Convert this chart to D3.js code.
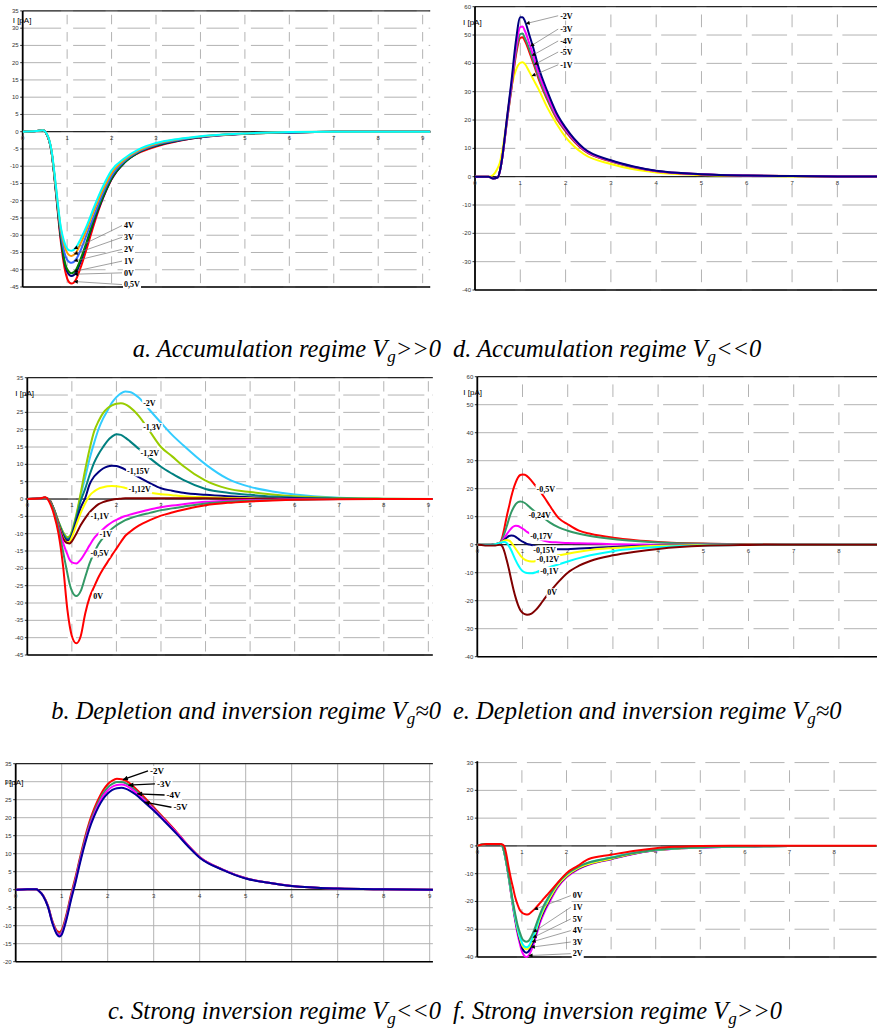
<!DOCTYPE html>
<html><head><meta charset="utf-8">
<script src="https://cdn.jsdelivr.net/npm/d3@7"></script>
<style>body{margin:0;background:#fff}svg{display:block}</style>
</head><body>
<svg id="c" width="877" height="1029"></svg>
<script>
// ---------- DATA ----------
// Panel a: accumulation Vg>>0
const aT   = [0,0.3,0.45,0.55,0.65,0.75,0.85,0.95,1.05,1.1,1.2,1.3,1.45,1.6,1.8,2.0,2.3,2.6,3.0,3.5,4.0,5.0,6.0,7.0,8.0,9.2];
const a05V = [0,0.2,0.4,-1,-6,-18,-31,-40,-43.7,-44,-42.8,-39.5,-33.5,-27,-19.5,-13.8,-8.7,-6.2,-4.3,-2.7,-1.6,-0.6,-0.2,0,0,0];
const a0V  = [0,0.2,0.4,-1,-6,-17.5,-30,-38.5,-41.5,-41.8,-40.8,-37.8,-32,-26,-19.3,-13.7,-8.9,-6.1,-4.1,-2.6,-1.6,-0.6,-0.2,0,0,0];
const a1V  = [0,0.2,0.4,-1,-6,-17.5,-29.5,-38,-40.7,-41,-40,-37,-31.5,-25.5,-19,-13.5,-8.8,-6,-4,-2.5,-1.5,-0.6,-0.2,0,0,0];
const a2V  = [0,0.2,0.4,-1,-5.8,-17,-28.5,-35.5,-37.8,-38,-37,-34.5,-29.5,-24.5,-18,-12.8,-8.4,-5.8,-3.8,-2.4,-1.5,-0.5,-0.2,0,0,0];
const a3V  = [0,0.2,0.4,-0.9,-5.6,-16.5,-27.5,-33.5,-35.8,-36,-35,-32.5,-28,-23,-17,-12,-8,-5.5,-3.5,-2.2,-1.4,-0.5,-0.1,0,0,0];
const a4V  = [0,0.2,0.4,-0.8,-5.5,-16,-27,-32.5,-34.4,-34.5,-33.5,-31.2,-27,-22,-16,-11.2,-7.6,-5.2,-3.3,-2.1,-1.3,-0.5,-0.1,0,0,0];

// Panel d: accumulation Vg<<0
const dT   = [0,0.3,0.4,0.5,0.55,0.6,0.65,0.7,0.8,0.9,1.0,1.05,1.1,1.2,1.3,1.4,1.6,1.8,2.0,2.4,3.0,3.5,4.0,5.0,6.0,7.0,8.0,9.0];
const dm2V = [0,0,-0.6,-0.3,2,6.5,13,20,33,47.5,56.3,56.3,55,50,44.7,38.8,30,22.5,17.3,10,5.8,3.6,2.1,0.9,0.4,0.2,0.1,0.1];
const dm3V = [0,0,-0.6,-0.3,2,6.5,12.5,19.5,32,45,52.8,53,51.5,47,42,36.8,28.5,21.5,16.7,9.7,5.6,3.5,2,0.9,0.4,0.2,0.1,0.1];
const dm4V = [0,0,-0.6,-0.3,2,6.5,12.5,19,31,43.5,50.3,50.5,49,45,40.3,35.5,27.5,21,16.3,9.5,5.5,3.4,2,0.9,0.4,0.2,0.1,0.1];
const dm5V = [0,0,-0.6,-0.3,2,6.5,12.3,18.8,30.5,42.5,49,49.2,48,44,39.5,34.7,27,20.5,16,9.3,5.4,3.3,1.9,0.8,0.4,0.2,0.1,0.1];
const dm1V = [0,0,0.6,3,5,9,14,20,31,37.5,40.2,40.4,39.8,37,34,31,24.3,18.7,14,8,4.5,2.6,1.5,0.6,0.3,0.1,0,0];

// Panel b: depletion / inversion Vg~0
const bT     = [0,0.3,0.4,0.5,0.6,0.7,0.8,0.9,0.95,1.0,1.1,1.2,1.3,1.4,1.5,1.6,1.7,1.8,1.9,2.0,2.1,2.2,2.3,2.5,2.75,3.0,3.25,3.5,4.0,4.5,5.0,5.5,6.0,7.0,8.0,9.1];
const bm2V   = [0,0.2,0.4,-0.3,-3,-6.5,-9.5,-11,-10.8,-9.5,-5,1,6.3,11.7,16.2,20.2,23.2,25.5,27.8,29.4,30.5,31,30.9,29.3,25.6,22,18.5,15.5,10,5.8,3.5,2.2,1.3,0.4,0.1,0];
const bm13V  = [0,0.2,0.4,-0.3,-3,-6.5,-9.5,-11,-10.8,-9.3,-4.5,1.8,8.5,14.5,19.5,22.5,24.8,26.2,27,27.5,27.6,27.3,26.5,24,19.5,15,12.3,9.5,5.3,3,2,1.3,0.8,0.3,0.1,0];
const bm12V  = [0,0.2,0.4,-0.3,-3,-6.8,-10,-11.5,-11.3,-10,-5.5,-0.5,3,7,10.5,13,15,16.8,18,18.7,18.5,17.7,16.7,14.5,11.8,9.3,7.3,5.5,2.9,1.8,1.2,0.7,0.4,0.15,0,0];
const bm115V = [0,0.2,0.4,-0.3,-3.2,-7,-10.5,-12,-11.8,-10.5,-6.5,-2.5,0.3,4.3,6.5,7.8,8.8,9.4,9.6,9.5,9.1,8.5,7.8,6.3,4.6,3.1,2.4,1.8,1.2,0.8,0.5,0.3,0.2,0,0,0];
const bm112V = [0,0.2,0.4,-0.3,-3.2,-7.2,-11,-12.5,-12.3,-11,-7.5,-4,-1.2,1,2.2,3,3.4,3.7,3.75,3.7,3.5,3.2,2.9,2.3,1.8,1.4,1.1,0.8,0.5,0.3,0.2,0.1,0,0,0,0];
const bm11V  = [0,0.2,0.4,-0.3,-3.3,-7.5,-11.3,-12.7,-12.8,-12.2,-10,-7.5,-5.5,-3.8,-2.5,-1.5,-0.9,-0.5,-0.2,0,0.1,0.2,0.2,0.2,0.2,0.2,0.2,0.2,0.2,0.1,0,0,0,0,0,0];
const bm1V   = [0,0.2,0.4,-0.5,-3.5,-8,-12.5,-16,-17.5,-18.3,-18.6,-17.5,-15.5,-13.3,-11.3,-9.9,-8.7,-7.6,-6.7,-6,-5.4,-4.9,-4.5,-3.8,-3,-2.4,-1.9,-1.5,-0.8,-0.5,-0.3,-0.2,-0.1,0,0,0];
const bm05V  = [0,0.2,0.4,-0.5,-3.5,-8.5,-15,-21.5,-24.5,-26.5,-28,-26.5,-22.5,-18.5,-15.5,-13,-11.2,-9.8,-8.6,-7.6,-6.8,-6.1,-5.6,-4.8,-4,-3.2,-2.7,-2.2,-1.3,-0.8,-0.5,-0.3,-0.2,0,0,0];
const b0V    = [0,0.2,0.5,-1,-4.5,-10,-19,-32,-36.5,-39.5,-41.6,-39.5,-33,-28.3,-25.3,-22.5,-20.2,-18.2,-16.2,-14.3,-12.4,-10.6,-9.5,-7.7,-6.1,-4.8,-3.9,-3.1,-1.8,-1.1,-0.7,-0.4,-0.2,-0.1,0,0];

// Panel e: depletion / inversion Vg~0
const eT     = [0,0.3,0.4,0.5,0.55,0.6,0.65,0.7,0.75,0.8,0.85,0.9,0.95,1.0,1.05,1.1,1.2,1.3,1.4,1.5,1.6,1.8,2.0,2.25,2.5,3.0,3.5,4.0,5.0,6.0,7.0,8.0,8.9];
const em05V  = [0,0,0.2,0.7,2.5,6,10,13.5,17,20,22.3,24,24.9,25.1,25,24.5,22.8,20.8,18.8,16.5,14,9.5,7.3,5,3.9,2.5,1.6,1,0.4,0.2,0.1,0,0];
const em024V = [0,0,0.2,0.6,1.8,4,6.5,9.2,11.5,13.2,14.5,15.2,15.4,15.3,14.9,14.3,12.8,11.5,10.5,9.2,8,6.2,5,3.9,3.1,2,1.3,0.8,0.3,0.1,0,0,0];
const em017V = [0,0,0.2,0.5,1.3,2.5,3.7,4.8,5.8,6.5,6.8,6.7,6.3,5.8,5.2,4.6,3.6,2.6,1.8,1.3,1,0.8,0.6,0.5,0.4,0.2,0.1,0,0,0,0,0,0];
const em015V = [0,0,0.2,0.5,1.1,1.8,2.5,3.1,3.3,3.2,2.8,2.2,1.6,1.1,0.7,0.3,-0.1,-0.6,-1,-1.3,-1.5,-1.6,-1.6,-1.4,-1.2,-0.8,-0.5,-0.3,-0.1,0,0,0,0];
const em012V = [0,0,0.2,0.6,1.1,1.5,1.7,1.5,0.8,-0.3,-1.5,-2.7,-3.8,-4.7,-5.3,-5.7,-6,-5.8,-5.3,-4.8,-4.4,-3.8,-3.2,-2.5,-1.9,-1.2,-0.7,-0.4,-0.1,0,0,0,0];
const em01V  = [0,0,0.2,0.6,0.9,1,0.6,-0.5,-2,-3.8,-5.6,-7.2,-8.5,-9.4,-9.9,-10.1,-10.2,-9.8,-9.2,-8.6,-8,-7,-6,-4.8,-3.8,-2.3,-1.4,-0.8,-0.3,-0.1,0,0,0];
const e0V    = [0,-0.3,-0.3,0,-0.5,-2.5,-5.5,-8.8,-12.5,-16,-19,-21.5,-23.3,-24.3,-24.8,-25,-24.6,-23.2,-21.2,-19,-17,-13.2,-10,-7.5,-5.8,-3.8,-2.5,-1.5,-0.4,-0.1,0,0,0];

// Panel c: strong inversion Vg<<0
const cT   = [0,0.25,0.45,0.5,0.6,0.7,0.8,0.9,0.95,1.0,1.1,1.2,1.3,1.4,1.5,1.6,1.7,1.8,1.9,2.0,2.1,2.2,2.3,2.4,2.6,2.8,3.0,3.25,3.5,3.75,4.0,4.5,5.0,5.5,6.0,7.0,8.0,9.1];
const cm2V = [0,0.15,0.15,-0.3,-1.7,-4.4,-8.8,-11.5,-11.8,-11.2,-7,-1.5,3.5,9,14.2,18.7,22.3,25.2,27.6,29.3,30.3,30.8,30.7,30.2,28.2,25.6,22.9,19.5,16,12.3,9.1,5.6,3.2,1.9,1.0,0.3,0.1,0];
const cm3V = [0,0.15,0.15,-0.3,-1.75,-4.5,-9,-11.9,-12.3,-11.7,-7.5,-2,3,8.5,13.6,18,21.5,24.4,26.7,28.4,29.4,29.9,29.9,29.5,27.6,25.1,22.5,19.2,15.8,12.2,9,5.6,3.2,1.9,1.0,0.3,0.1,0];
const cm4V = [0,0.15,0.15,-0.3,-1.8,-4.6,-9.2,-12.2,-12.6,-12.1,-8,-2.5,2.5,8,13,17.4,20.8,23.7,26,27.6,28.6,29.1,29.2,28.9,27.1,24.8,22.3,19.1,15.8,12.2,9,5.6,3.2,1.9,1.0,0.3,0.1,0];
const cm5V = [0,0.15,0.15,-0.3,-1.8,-4.7,-9.4,-12.5,-13,-12.5,-8.5,-3,2,7.5,12.5,16.8,20.2,23,25.2,26.7,27.7,28.2,28.3,28,26.5,24.3,22,18.8,15.5,12,8.9,5.5,3.1,1.9,1.0,0.3,0.1,0];

// Panel f: strong inversion Vg>>0
const fT  = [0,0.2,0.5,0.55,0.6,0.65,0.7,0.75,0.8,0.85,0.9,0.95,1.0,1.05,1.1,1.15,1.2,1.3,1.4,1.5,1.6,1.8,2.0,2.25,2.5,3.0,3.5,4.0,4.5,5.0,6.0,7.0,8.0,9.0];
const f2V = [0,0.7,0.7,0.3,-2,-6,-11,-16.5,-22,-27,-31.5,-35,-38,-39.5,-40,-39.5,-38,-33.5,-28,-24,-20.8,-15,-11.3,-8.5,-6.8,-4.8,-2.9,-1.6,-0.9,-0.6,-0.2,0,0,0];
const f3V = [0,0.7,0.7,0.3,-2,-6,-10.8,-16.2,-21.5,-26.3,-30.5,-33.8,-36.5,-38,-38.5,-38,-36.5,-32.3,-27,-23.2,-20,-14.5,-11,-8.3,-6.6,-4.7,-2.8,-1.6,-0.9,-0.6,-0.2,0,0,0];
const f4V = [0,0.7,0.7,0.3,-2,-6,-10.7,-16,-21.2,-25.8,-29.8,-33,-35.5,-36.8,-37.2,-36.8,-35.4,-31.3,-26.3,-22.5,-19.5,-14.2,-10.8,-8.1,-6.5,-4.6,-2.7,-1.5,-0.9,-0.5,-0.2,0,0,0];
const f5V = [0,0.7,0.7,0.3,-2,-6,-10.6,-15.8,-21,-25.5,-29.3,-32.4,-34.8,-36.1,-36.5,-36.1,-34.7,-30.6,-25.5,-21.7,-18.7,-13.6,-10.3,-7.6,-6,-4.2,-2.5,-1.4,-0.8,-0.5,-0.2,0,0,0];
const f1V = [0,0.7,0.7,0.3,-2,-5.8,-10.3,-15.3,-20.3,-24.5,-28.3,-31,-33.2,-34.2,-34.5,-34.2,-33,-29.2,-24.8,-21.2,-18.4,-13.5,-10.2,-7.6,-6,-4.3,-2.6,-1.4,-0.8,-0.5,-0.2,0,0,0];
const f0V = [0,0.7,0.7,0.6,0,-3,-7.5,-11.5,-15,-18.5,-21,-23,-24,-24.5,-24.7,-24.6,-24,-22.5,-20.7,-18.8,-17,-13.3,-9.8,-7.2,-4.7,-3.2,-1.8,-0.8,-0.3,0,0.1,0.1,0.1,0.1];

// tick values
const yTicks5a  = d3.range(-45, 36, 5);
const yTicks5b  = [-45,-40,-35,-30,-25,-20,-15,-10,-5,0,5,10,15,20,25,35]; // "30" hidden behind the axis title
const yTicks10d = d3.range(-40, 61, 10);
const yTicks5c  = d3.range(-20, 36, 5);
const yTicks10f = d3.range(-40, 31, 10);
const xTicks9   = [0,1,2,3,4,5,6,7,8,9];
const xTicks8   = [0,1,2,3,4,5,6,7,8];

// ---------- DRAWING ----------
const svg = d3.select('#c');
const defs = svg.append('defs');
defs.append('marker').attr('id','arS').attr('viewBox','0 0 10 10').attr('refX',10).attr('refY',5)
  .attr('markerUnits','userSpaceOnUse').attr('markerWidth',5).attr('markerHeight',4).attr('orient','auto')
  .append('path').attr('d','M0,0L10,5L0,10z').attr('fill','#000');
defs.append('marker').attr('id','arB').attr('viewBox','0 0 10 10').attr('refX',10).attr('refY',5)
  .attr('markerUnits','userSpaceOnUse').attr('markerWidth',7).attr('markerHeight',5).attr('orient','auto')
  .append('path').attr('d','M0,0L10,5L0,10z').attr('fill','#000');

function vAt(ts, vs, t){
  const i = Math.max(0, Math.min(ts.length-2, d3.bisectRight(ts, t)-1));
  const f = (t-ts[i])/(ts[i+1]-ts[i]);
  return vs[i] + f*(vs[i+1]-vs[i]);
}

const LBL_FONT = "'Liberation Serif','Times New Roman',serif";
const SANS = "'Liberation Sans',Arial,sans-serif";

function drawPanel(p, idx){
  const x = d3.scaleLinear().domain([0, p.xmax]).range([p.left, p.right]);
  const y = d3.scaleLinear().domain([p.ymax, p.ymin]).range([p.top, p.bottom]);
  const W = Math.min(p.right, 877);
  const g = svg.append('g');
  const clipId = 'clip' + idx;
  defs.append('clipPath').attr('id', clipId).append('rect')
    .attr('x', x(0)).attr('y', y(p.ymax)-2).attr('width', W - x(0)).attr('height', y(p.ymin)-y(p.ymax)+3);

  const gridTicks = p.gridTicks || p.yTicks;
  // grid
  const grid = g.append('g').attr('stroke', p.gridColor || '#b3b3b3').attr('stroke-width', 1).attr('fill','none');
  const xv = p.xTicks.filter(t => t > 0);
  if (p.grid === 'solid') {
    gridTicks.forEach(v => grid.append('line').attr('x1', x(0)).attr('x2', W).attr('y1', y(v)).attr('y2', y(v)));
    xv.forEach(t => grid.append('line').attr('x1', x(t)).attr('x2', x(t)).attr('y1', y(p.ymax)).attr('y2', y(p.ymin)));
  } else {
    const gap = p.hGap;
    gridTicks.forEach(v => {
      const edges = [x(0)].concat(xv.map(t => x(t))).concat([W]);
      for (let i = 0; i < edges.length-1; i++) {
        const a = i === 0 ? edges[i] : edges[i] + gap/2;
        const b = i === edges.length-2 ? edges[i+1] : edges[i+1] - gap/2;
        if (b > a) grid.append('line').attr('x1', a).attr('x2', b).attr('y1', y(v)).attr('y2', y(v));
      }
    });
    const ys = gridTicks.slice().sort((a,b)=>a-b);
    xv.forEach(t => {
      for (let j = 0; j < ys.length-1; j++) {
        const y0 = y(ys[j]), y1 = y(ys[j+1]);
        const mid = (y0 + y1)/2, h = Math.abs(y0 - y1) * p.vFrac;
        grid.append('line').attr('x1', x(t)).attr('x2', x(t)).attr('y1', mid - h/2).attr('y2', mid + h/2);
      }
    });
  }

  // frame lines
  const frame = g.append('g').attr('stroke', '#000');
  if (p.topLine) frame.append('line').attr('x1', x(0)).attr('x2', W).attr('y1', y(p.ymax)).attr('y2', y(p.ymax)).attr('stroke-width', 1);
  frame.append('line').attr('x1', x(0)).attr('x2', W).attr('y1', y(p.ymin)).attr('y2', y(p.ymin)).attr('stroke-width', 1.6);
  frame.append('line').attr('x1', x(0)).attr('x2', W).attr('y1', y(0)).attr('y2', y(0)).attr('stroke-width', 1);
  frame.append('line').attr('x1', x(0)).attr('x2', x(0)).attr('y1', y(p.ymax)).attr('y2', y(p.ymin)).attr('stroke-width', 1.8);
  gridTicks.forEach(v => frame.append('line').attr('x1', x(0)-2.5).attr('x2', x(0)).attr('y1', y(v)).attr('y2', y(v)).attr('stroke-width', 0.8));

  // tick labels
  const tl = g.append('g').attr('font-family', SANS).attr('font-size', 6).attr('fill', '#333');
  p.yTicks.forEach(v => tl.append('text').attr('x', x(0)-4).attr('y', y(v)+2).attr('text-anchor','end').text(v));
  p.xTicks.forEach(t => tl.append('text').attr('x', x(t)).attr('y', y(0)+8).attr('text-anchor','middle').text(t));

  // y title
  if (p.ytitle) g.append('text').attr('x', x(0)+p.ytitle[0]).attr('y', y(p.ymax)+p.ytitle[1])
      .attr('font-family', SANS).attr('font-size', 8).attr('fill','#000').text('I [pA]');

  // curves
  const line = d3.line().x((d,i)=>x(p.t[i])).y(d=>y(d)).curve(d3.curveMonotoneX);
  const cg = g.append('g').attr('clip-path', `url(#${clipId})`);
  p.series.forEach(s => cg.append('path').attr('d', line(s.v)).attr('fill','none')
    .attr('stroke', s.color).attr('stroke-width', 2).attr('stroke-linejoin','round'));

  // labels
  const lg = g.append('g');
  p.labels.forEach(L => {
    const lx = x(L.t), ly = y(L.v);
    if (L.target) {
      const s = p.series.find(s => s.name === L.name);
      const tx = x(L.target), ty = y(vAt(p.t, s.v, L.target));
      lg.append('line').attr('x1', lx - 2).attr('y1', ly).attr('x2', tx).attr('y2', ty)
        .attr('stroke', p.arrowStyle === 'big' ? '#000' : '#777')
        .attr('stroke-width', p.arrowStyle === 'big' ? 1.3 : 0.7)
        .attr('marker-end', p.arrowStyle === 'big' ? 'url(#arB)' : 'url(#arS)');
    }
  });
  p.labels.forEach(L => {
    const lx = x(L.t), ly = y(L.v);
    const txt = lg.append('text').attr('x', lx).attr('y', ly + p.labelSize*0.35)
      .attr('font-family', LBL_FONT).attr('font-weight','bold').attr('font-size', p.labelSize)
      .attr('fill','#000').text(L.name);
    const bb = txt.node().getBBox();
    lg.insert('rect', () => txt.node()).attr('x', bb.x-1).attr('y', bb.y).attr('width', bb.width+2).attr('height', bb.height).attr('fill','#fff');
  });
}

const panels = [
  { left:22.7, right:430.2, xmax:9.17, top:10.9, bottom:287, ymax:35, ymin:-45,
    yTicks:yTicks5a, xTicks:xTicks9, grid:'gap', hGap:12, vFrac:0.55, topLine:true, ytitle:[-10,12],
    t:aT, labelSize:8,
    series:[
      {name:'0,5V', color:'#ff0000', v:a05V},
      {name:'0V', color:'#000080', v:a0V},
      {name:'1V', color:'#008000', v:a1V},
      {name:'2V', color:'#3366ff', v:a2V},
      {name:'3V', color:'#ff9900', v:a3V},
      {name:'4V', color:'#00ffff', v:a4V}],
    labels:[
      {name:'4V', t:2.28, v:-27.2, target:1.15},
      {name:'3V', t:2.28, v:-30.6, target:1.15},
      {name:'2V', t:2.28, v:-34.1, target:1.15},
      {name:'1V', t:2.28, v:-37.5, target:1.15},
      {name:'0V', t:2.28, v:-40.9, target:1.15},
      {name:'0,5V', t:2.28, v:-44.3, target:1.15}] },
  { left:475, right:880.4, xmax:8.95, top:6.7, bottom:290, ymax:60, ymin:-40,
    yTicks:yTicks10d, xTicks:xTicks8, grid:'gap', hGap:10, vFrac:0.45, topLine:true, ytitle:[-12,18],
    t:dT, labelSize:8,
    series:[
      {name:'-1V', color:'#ffff00', v:dm1V},
      {name:'-5V', color:'#ff0000', v:dm5V},
      {name:'-4V', color:'#339966', v:dm4V},
      {name:'-3V', color:'#ff00ff', v:dm3V},
      {name:'-2V', color:'#000080', v:dm2V}],
    labels:[
      {name:'-2V', t:1.88, v:56.8, target:1.12},
      {name:'-3V', t:1.88, v:52.1, target:1.22},
      {name:'-4V', t:1.88, v:47.9, target:1.25},
      {name:'-5V', t:1.88, v:44.0, target:1.3},
      {name:'-1V', t:1.88, v:39.5, target:1.25}] },
  { left:27.3, right:432.8, xmax:9.1, top:377.7, bottom:655, ymax:35, ymin:-45,
    yTicks:yTicks5b, gridTicks:yTicks5a, xTicks:xTicks9, grid:'gap', hGap:8, vFrac:0.6, topLine:true, ytitle:[-12,18],
    t:bT, labelSize:8,
    series:[
      {name:'-2V', color:'#33ccff', v:bm2V},
      {name:'-1,3V', color:'#99cc00', v:bm13V},
      {name:'-1,2V', color:'#008080', v:bm12V},
      {name:'-1,15V', color:'#000080', v:bm115V},
      {name:'-1,12V', color:'#ffff00', v:bm112V},
      {name:'-1,1V', color:'#800000', v:bm11V},
      {name:'-1V', color:'#ff00ff', v:bm1V},
      {name:'-0,5V', color:'#339966', v:bm05V},
      {name:'0V', color:'#ff0000', v:b0V}],
    labels:[
      {name:'-2V', t:2.6, v:27.6},
      {name:'-1,3V', t:2.6, v:20.7},
      {name:'-1,2V', t:2.54, v:13.2},
      {name:'-1,15V', t:2.24, v:7.9},
      {name:'-1,12V', t:2.27, v:2.9},
      {name:'-1,1V', t:1.42, v:-5.1},
      {name:'-1V', t:1.62, v:-10.1},
      {name:'-0,5V', t:1.42, v:-15.5},
      {name:'0V', t:1.48, v:-27.9}] },
  { left:477.3, right:879.6, xmax:8.9, top:376.7, bottom:656.7, ymax:60, ymin:-40,
    yTicks:yTicks10d, xTicks:xTicks8, grid:'gap', hGap:10, vFrac:0.45, topLine:true, ytitle:[-14,18],
    t:eT, labelSize:8,
    series:[
      {name:'-0,5V', color:'#ff0000', v:em05V},
      {name:'-0,24V', color:'#339966', v:em024V},
      {name:'-0,17V', color:'#ff00ff', v:em017V},
      {name:'-0,15V', color:'#000080', v:em015V},
      {name:'-0,12V', color:'#ffff00', v:em012V},
      {name:'-0,1V', color:'#00ffff', v:em01V},
      {name:'0V', color:'#800000', v:e0V}],
    labels:[
      {name:'-0,5V', t:1.31, v:19.9},
      {name:'-0,24V', t:1.13, v:10.6},
      {name:'-0,17V', t:1.17, v:3.2},
      {name:'-0,15V', t:1.24, v:-1.9},
      {name:'-0,12V', t:1.31, v:-5.2},
      {name:'-0,1V', t:1.39, v:-9.4},
      {name:'0V', t:1.55, v:-17.1}] },
  { left:15.7, right:432.9, xmax:9.07, top:763.7, bottom:961.7, ymax:35, ymin:-20,
    yTicks:yTicks5c, xTicks:xTicks9, grid:'solid', topLine:true, ytitle:[-11,21], arrowStyle:'big',
    t:cT, labelSize:9,
    series:[
      {name:'-2V', color:'#ff0000', v:cm2V},
      {name:'-3V', color:'#339966', v:cm3V},
      {name:'-4V', color:'#ff00ff', v:cm4V},
      {name:'-5V', color:'#000099', v:cm5V}],
    labels:[
      {name:'-2V', t:2.92, v:33.0, target:2.33},
      {name:'-3V', t:3.07, v:29.4, target:2.45},
      {name:'-4V', t:3.28, v:26.3, target:2.64},
      {name:'-5V', t:3.43, v:22.9, target:2.8}] },
  { left:477.3, right:876.5, xmax:8.95, top:761.2, bottom:957, ymax:30.5, ymin:-40,
    yTicks:yTicks10f, xTicks:xTicks8, grid:'gap', hGap:10, vFrac:0.45, topLine:false, ytitle:null,
    t:fT, labelSize:8,
    series:[
      {name:'2V', color:'#ff00ff', v:f2V},
      {name:'3V', color:'#000080', v:f3V},
      {name:'4V', color:'#ffff00', v:f4V},
      {name:'5V', color:'#00ffff', v:f5V},
      {name:'1V', color:'#339966', v:f1V},
      {name:'0V', color:'#ff0000', v:f0V}],
    labels:[
      {name:'0V', t:2.14, v:-17.9, target:1.27},
      {name:'1V', t:2.14, v:-22.1, target:1.25},
      {name:'5V', t:2.14, v:-26.3, target:1.24},
      {name:'4V', t:2.14, v:-30.5, target:1.22},
      {name:'3V', t:2.14, v:-34.6, target:1.2},
      {name:'2V', t:2.14, v:-38.8, target:1.15}] }
];
panels.forEach((p,i) => drawPanel(p,i));

// captions
const captions = [
  {pre:'a. Accumulation regime V', post:'>>0', x:441, y:357, anchor:'end'},
  {pre:'d. Accumulation regime V', post:'<<0', x:453, y:357, anchor:'start'},
  {pre:'b. Depletion and inversion regime V', post:'\u22480', x:441, y:719, anchor:'end'},
  {pre:'e. Depletion and inversion regime V', post:'\u22480', x:453, y:719, anchor:'start'},
  {pre:'c. Strong inversion regime V', post:'<<0', x:441, y:1019, anchor:'end'},
  {pre:'f. Strong inversion regime V', post:'>>0', x:453, y:1019, anchor:'start'}
];
captions.forEach(c => {
  const t = svg.append('text').attr('x', c.x).attr('y', c.y).attr('text-anchor', c.anchor)
    .attr('font-family', LBL_FONT).attr('font-style','italic').attr('font-size', 24.5).attr('fill','#000');
  t.append('tspan').text(c.pre);
  t.append('tspan').attr('font-size', 17).attr('dy', 5).text('g');
  t.append('tspan').attr('dy', -5).text(c.post);
});
</script>
</body></html>
